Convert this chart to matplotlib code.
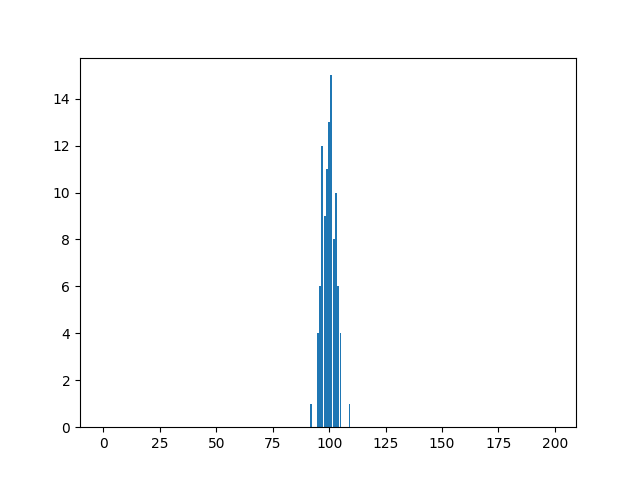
import numpy as np
import matplotlib
matplotlib.use("Agg")
import matplotlib.pyplot as plt

# counts per value, everything else is zero
values = [92, 95, 96, 97, 98, 99, 100, 101, 102, 103, 104, 105, 109]
heights = [1, 4, 6, 12, 9, 11, 13, 15, 8, 10, 6, 4, 1]

counts = np.zeros(200)
counts[values] = heights

plt.figure(figsize=(6.4, 4.8), dpi=100)
plt.bar(range(200), counts)
plt.savefig("out.png")
